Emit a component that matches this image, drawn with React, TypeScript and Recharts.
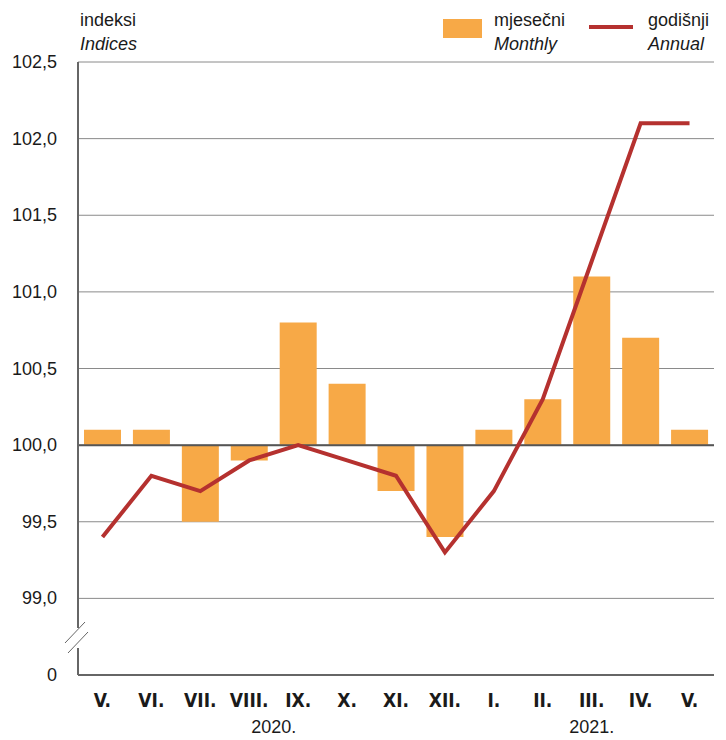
import {
  ComposedChart,
  Bar,
  Line,
  XAxis,
  YAxis,
  CartesianGrid,
  ReferenceLine,
} from "recharts";

const months = ["V.", "VI.", "VII.", "VIII.", "IX.", "X.", "XI.", "XII.", "I.", "II.", "III.", "IV.", "V."];
const monthly = [100.1, 100.1, 99.5, 99.9, 100.8, 100.4, 99.7, 99.4, 100.1, 100.3, 101.1, 100.7, 100.1];
const annual = [99.4, 99.8, 99.7, 99.9, 100.0, 99.9, 99.8, 99.3, 99.7, 100.3, 101.2, 102.1, 102.1];
const yTicks = [98.5, 99, 99.5, 100, 100.5, 101, 101.5, 102, 102.5];
const yearLabels = ["2020.", "2021."];
const yearTicks = [3.5, 10]; // middle of each year's months

const BASE = 100;
const AXIS_X = 78;
const ORANGE = "#f7a947";
const RED = "#b5312f";
const SANS = "'Liberation Sans', Arial, sans-serif";
const NARROW = "'Liberation Sans Narrow', 'DejaVu Sans Condensed', sans-serif";

const data = months.map((m, i) => ({
  idx: i,
  month: m,
  monthly: [BASE, monthly[i]],
  annual: annual[i],
}));

const fmtY = (v: number) => (v === yTicks[0] ? "0" : v.toFixed(1).replace(".", ","));

const YTick = (props: any) => {
  const { x, y, payload } = props;
  const isBreak = payload.value === yTicks[0];
  return (
    <g>
      {isBreak && (
        <g>
          <rect x={AXIS_X - 3} y={y - 47} width={6} height={20} fill="#fff" />
          <line x1={AXIS_X - 13} y1={y - 32} x2={AXIS_X + 7} y2={y - 53} stroke="#666" strokeWidth={1} />
          <line x1={AXIS_X - 10} y1={y - 22} x2={AXIS_X + 10} y2={y - 43} stroke="#666" strokeWidth={1} />
        </g>
      )}
      <text x={x} y={y} dy={6} textAnchor="end" fill="#1a1a1a" fontSize={18} fontFamily={SANS}>
        {fmtY(payload.value)}
      </text>
    </g>
  );
};

export default function App() {
  return (
    <div style={{ position: "relative", width: 726, height: 740, background: "#fff", fontFamily: SANS, color: "#1a1a1a" }}>
      <style>{"body{margin:0}"}</style>
      <ComposedChart width={726} height={740} data={data} margin={{ top: 62, right: 12, bottom: 0, left: 0 }}>
        <CartesianGrid vertical={false} stroke="#8a8a8a" strokeWidth={1} />
        <XAxis
          dataKey="month"
          axisLine={{ stroke: "#666", strokeWidth: 2 }}
          tickLine={false}
          tickMargin={13}
          height={33}
          interval={0}
          tick={{ fill: "#1a1a1a", fontSize: 19, fontWeight: 700, fontFamily: NARROW }}
        />
        <XAxis
          xAxisId="year"
          dataKey="idx"
          type="number"
          domain={[-0.5, months.length - 0.5]}
          ticks={yearTicks}
          tickFormatter={(v: number) => yearLabels[yearTicks.indexOf(v)]}
          axisLine={false}
          tickLine={false}
          tickMargin={6}
          height={32}
          tick={{ fill: "#1a1a1a", fontSize: 18, fontFamily: SANS }}
        />
        <YAxis
          type="number"
          domain={[yTicks[0], yTicks[yTicks.length - 1]]}
          ticks={yTicks}
          allowDataOverflow
          width={AXIS_X}
          axisLine={{ stroke: "#666", strokeWidth: 2 }}
          tickLine={false}
          tickMargin={15}
          tick={<YTick />}
        />
        <Bar dataKey="monthly" fill={ORANGE} barSize={37} isAnimationActive={false} />
        <ReferenceLine y={BASE} stroke="#555" strokeWidth={2} />
        <Line
          type="linear"
          dataKey="annual"
          stroke={RED}
          strokeWidth={4}
          dot={false}
          activeDot={false}
          isAnimationActive={false}
        />
      </ComposedChart>

      <div style={{ position: "absolute", left: 80, top: 11, fontSize: 18, lineHeight: "18px" }}>indeksi</div>
      <div style={{ position: "absolute", left: 80, top: 35, fontSize: 18, lineHeight: "18px", fontStyle: "italic" }}>Indices</div>

      <div style={{ position: "absolute", left: 443, top: 19, width: 39, height: 19, background: ORANGE }} />
      <div style={{ position: "absolute", left: 494, top: 11, fontSize: 18, lineHeight: "18px" }}>mjesečni</div>
      <div style={{ position: "absolute", left: 494, top: 35, fontSize: 18, lineHeight: "18px", fontStyle: "italic" }}>Monthly</div>

      <div style={{ position: "absolute", left: 589, top: 25, width: 44, height: 4, background: RED }} />
      <div style={{ position: "absolute", left: 648, top: 11, fontSize: 18, lineHeight: "18px" }}>godišnji</div>
      <div style={{ position: "absolute", left: 648, top: 35, fontSize: 18, lineHeight: "18px", fontStyle: "italic" }}>Annual</div>
    </div>
  );
}
